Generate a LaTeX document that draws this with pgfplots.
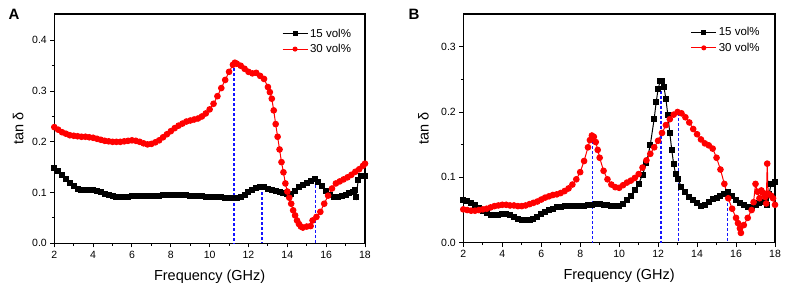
\documentclass[border=0pt]{standalone}
\usepackage{fontspec}
\setmainfont{Liberation Sans}
\usepackage{pgfplots}
\pgfplotsset{compat=1.18}
\definecolor{myred}{RGB}{255,0,0}
\definecolor{myblue}{RGB}{20,20,255}
\pgfplotsset{
  panel/.style={
    scale only axis,
    anchor=south west,
    xmin=2, xmax=18,
    ymin=0,
    xtick={2,4,...,18},
    minor x tick num=1,
    minor y tick num=1,
    tick align=outside,
    xtick pos=bottom, ytick pos=left,
    axis line style={line width=1.2pt},
    major tick style={line width=1pt, black},
    minor tick style={line width=1pt, black},
    major tick length=4pt,
    minor tick length=2.5pt,
    /pgf/number format/assume math mode=true,
    tick label style={font=\fontsize{10.5}{12}\selectfont},
    yticklabel style={/pgf/number format/.cd, fixed, fixed zerofill, precision=1},
    label style={font=\fontsize{14.5}{17}\selectfont},
    xlabel={Frequency (GHz)},
    ylabel={tan δ},
    x label style={at={(axis description cs:0.5,-0.145)}, anchor=center},
    legend cell align=left,
    legend style={draw=none, fill=none, inner sep=0pt, font=\fontsize{11.5}{13}\selectfont, row sep=1.5pt},
    legend image code/.code={\draw[mark repeat=2, mark phase=2, mark size=2pt] plot coordinates {(0pt,0pt) (12.5pt,0pt) (25pt,0pt)};},
  },
  s15/.style={black, line width=1pt, mark=square*, mark size=2.5pt, mark options={solid, fill=black}},
  s30/.style={myred, line width=1pt, mark=*, mark size=2.8pt, mark options={solid, fill=myred}},
  vline/.style={myblue, line width=1.3pt, dash pattern=on 3pt off 2pt, forget plot, mark=none},
}
\begin{document}
\begin{tikzpicture}
\useasboundingbox (0,0) rectangle (785pt,289pt);
% ---------------- Panel A ----------------
\begin{axis}[panel,
  at={(54.3pt,45.7pt)}, width=310.7pt, height=229.3pt,
  ymax=0.452, ytick={0,0.1,0.2,0.3,0.4},
  y label style={at={(axis description cs:-0.116,0.5)}, anchor=center},
  legend style={at={(axis description cs:0.962,0.945)}, anchor=north east},
]
\addplot[s15] coordinates {
(2.0,0.148)(2.2,0.142)(2.4,0.134)(2.6,0.126)(2.8,0.118)(3.0,0.112)(3.2,0.108)(3.4,0.106)(3.6,0.106)(3.8,0.106)
(4.0,0.106)(4.2,0.104)(4.4,0.101)(4.6,0.098)(4.8,0.096)(5.0,0.094)(5.2,0.092)(5.4,0.091)(5.6,0.091)(5.8,0.092)
(6.0,0.093)(6.2,0.093)(6.4,0.093)(6.6,0.093)(6.8,0.093)(7.0,0.094)(7.2,0.094)(7.4,0.094)(7.6,0.095)(7.8,0.095)
(8.0,0.095)(8.2,0.095)(8.4,0.095)(8.6,0.095)(8.8,0.095)(9.0,0.094)(9.2,0.094)(9.4,0.093)(9.6,0.093)(9.8,0.092)
(10.0,0.092)(10.2,0.092)(10.4,0.092)(10.6,0.091)(10.8,0.090)(11.0,0.089)(11.2,0.089)(11.4,0.089)(11.6,0.091)(11.8,0.096)
(12.0,0.101)(12.2,0.106)(12.4,0.109)(12.6,0.110)(12.8,0.110)(13.0,0.108)(13.2,0.106)(13.4,0.103)(13.6,0.101)(13.8,0.099)
(14.0,0.097)(14.2,0.098)(14.4,0.104)(14.6,0.111)(14.8,0.115)(15.0,0.118)(15.2,0.122)(15.4,0.126)(15.6,0.121)(15.8,0.113)
(16.0,0.104)(16.2,0.096)(16.4,0.092)(16.6,0.091)(16.8,0.093)(17.0,0.096)(17.2,0.099)(17.4,0.102)(17.5,0.106)(17.55,0.092)
(17.65,0.125)(17.8,0.132)(18.0,0.133)
};
\addlegendentry{15 vol\%}
\addplot[s30] coordinates {
(2.0,0.229)(2.2,0.224)(2.4,0.219)(2.6,0.216)(2.8,0.213)(3.0,0.212)(3.2,0.211)(3.4,0.210)(3.6,0.210)(3.8,0.209)
(4.0,0.208)(4.2,0.206)(4.4,0.204)(4.6,0.202)(4.8,0.201)(5.0,0.200)(5.2,0.200)(5.4,0.200)(5.6,0.201)(5.8,0.202)
(6.0,0.203)(6.2,0.202)(6.4,0.200)(6.6,0.197)(6.8,0.195)(7.0,0.196)(7.2,0.199)(7.4,0.203)(7.6,0.209)(7.8,0.215)
(8.0,0.221)(8.2,0.227)(8.4,0.232)(8.6,0.236)(8.8,0.240)(9.0,0.242)(9.2,0.244)(9.4,0.246)(9.6,0.250)(9.8,0.256)
(10.0,0.264)(10.2,0.275)(10.4,0.290)(10.6,0.306)(10.8,0.322)(11.0,0.338)(11.2,0.352)(11.3,0.356)(11.4,0.354)(11.6,0.350)
(11.8,0.344)(12.0,0.338)(12.2,0.335)(12.4,0.336)(12.6,0.330)(12.8,0.324)(13.0,0.308)(13.1,0.298)(13.2,0.285)(13.3,0.262)
(13.4,0.235)(13.5,0.210)(13.6,0.185)(13.7,0.160)(13.8,0.140)(13.9,0.118)(14.0,0.102)(14.1,0.090)(14.2,0.078)(14.3,0.065)
(14.4,0.055)(14.5,0.045)(14.6,0.038)(14.7,0.033)(14.8,0.031)(15.0,0.033)(15.2,0.034)(15.3,0.045)(15.5,0.052)(15.7,0.062)
(15.9,0.078)(16.1,0.094)(16.3,0.108)(16.5,0.118)(16.7,0.122)(16.9,0.126)(17.1,0.130)(17.3,0.135)(17.5,0.141)(17.7,0.146)
(17.9,0.153)(18.0,0.157)
};
\addlegendentry{30 vol\%}
\addplot[vline] coordinates {(11.25,0.355)(11.25,0)};
\addplot[vline] coordinates {(12.7,0.110)(12.7,0)};
\addplot[vline] coordinates {(15.45,0.125)(15.45,0)};
\end{axis}
% ---------------- Panel B ----------------
\begin{axis}[panel,
  at={(463.3pt,46.3pt)}, width=311.7pt, height=228.7pt,
  ymax=0.35, ytick={0,0.1,0.2,0.3},
  y label style={at={(axis description cs:-0.128,0.5)}, anchor=center},
  legend style={at={(axis description cs:0.958,0.95)}, anchor=north east},
]
\addplot[s15] coordinates {
(2.0,0.066)(2.2,0.064)(2.4,0.061)(2.6,0.058)(2.8,0.053)(3.0,0.049)(3.2,0.046)(3.4,0.043)(3.6,0.042)(3.8,0.043)
(4.0,0.044)(4.2,0.044)(4.4,0.042)(4.6,0.039)(4.8,0.036)(5.0,0.034)(5.2,0.034)(5.4,0.035)(5.6,0.037)(5.8,0.040)
(6.0,0.044)(6.2,0.047)(6.4,0.050)(6.6,0.052)(6.8,0.054)(7.0,0.055)(7.2,0.056)(7.4,0.056)(7.6,0.056)(7.8,0.056)
(8.0,0.056)(8.2,0.056)(8.4,0.057)(8.6,0.058)(8.8,0.059)(9.0,0.059)(9.2,0.058)(9.4,0.057)(9.6,0.056)(9.8,0.056)
(10.0,0.056)(10.2,0.059)(10.4,0.065)(10.6,0.071)(10.8,0.080)(11.0,0.090)(11.2,0.104)(11.4,0.122)(11.6,0.150)(11.8,0.190)
(11.9,0.215)(12.0,0.235)(12.1,0.247)(12.2,0.248)(12.3,0.238)(12.4,0.220)(12.5,0.195)(12.6,0.168)(12.7,0.142)(12.8,0.120)
(12.9,0.105)(13.0,0.097)(13.2,0.086)(13.4,0.077)(13.6,0.070)(13.8,0.065)(14.0,0.060)(14.2,0.056)(14.4,0.057)(14.6,0.063)
(14.8,0.067)(15.0,0.069)(15.2,0.072)(15.4,0.075)(15.6,0.077)(15.8,0.072)(16.0,0.066)(16.2,0.061)(16.4,0.057)(16.6,0.054)
(16.8,0.055)(17.0,0.058)(17.2,0.061)(17.4,0.063)(17.55,0.068)(17.6,0.058)(17.7,0.075)(17.8,0.090)(18.0,0.093)
};
\addlegendentry{15 vol\%}
\addplot[s30] coordinates {
(2.0,0.051)(2.2,0.050)(2.4,0.049)(2.6,0.049)(2.8,0.050)(3.0,0.051)(3.2,0.052)(3.4,0.054)(3.6,0.056)(3.8,0.057)
(4.0,0.058)(4.2,0.058)(4.4,0.057)(4.6,0.057)(4.8,0.056)(5.0,0.056)(5.2,0.057)(5.4,0.059)(5.6,0.061)(5.8,0.063)
(6.0,0.066)(6.2,0.069)(6.4,0.071)(6.6,0.073)(6.8,0.074)(7.0,0.076)(7.2,0.079)(7.4,0.083)(7.6,0.089)(7.8,0.097)
(8.0,0.108)(8.2,0.125)(8.4,0.146)(8.5,0.157)(8.6,0.164)(8.7,0.162)(8.8,0.154)(8.9,0.142)(9.0,0.130)(9.2,0.110)
(9.4,0.097)(9.6,0.089)(9.8,0.085)(10.0,0.084)(10.2,0.088)(10.4,0.092)(10.6,0.095)(10.8,0.099)(11.0,0.105)(11.2,0.115)
(11.4,0.126)(11.6,0.136)(11.8,0.146)(12.0,0.156)(12.2,0.168)(12.4,0.180)(12.6,0.189)(12.8,0.196)(13.0,0.200)(13.2,0.198)
(13.4,0.192)(13.6,0.184)(13.8,0.174)(14.0,0.166)(14.2,0.158)(14.4,0.152)(14.6,0.149)(14.8,0.144)(15.0,0.130)(15.2,0.112)
(15.4,0.090)(15.6,0.068)(15.8,0.052)(16.0,0.038)(16.1,0.030)(16.2,0.022)(16.25,0.015)(16.4,0.027)(16.6,0.038)(16.8,0.050)
(16.9,0.062)(17.0,0.090)(17.1,0.078)(17.2,0.068)(17.3,0.080)(17.4,0.076)(17.5,0.070)(17.55,0.060)(17.6,0.121)(17.65,0.075)
(17.8,0.072)(17.9,0.068)(18.0,0.058)
};
\addlegendentry{30 vol\%}
\addplot[vline] coordinates {(8.62,0.163)(8.62,0)};
\addplot[vline] coordinates {(12.15,0.248)(12.15,0)};
\addplot[vline] coordinates {(13.05,0.199)(13.05,0)};
\addplot[vline] coordinates {(15.55,0.076)(15.55,0)};
\end{axis}
\node[font=\fontsize{15}{18}\selectfont\bfseries] at (14pt,275pt) {A};
\node[font=\fontsize{15}{18}\selectfont\bfseries] at (414pt,275pt) {B};
\end{tikzpicture}
\end{document}
